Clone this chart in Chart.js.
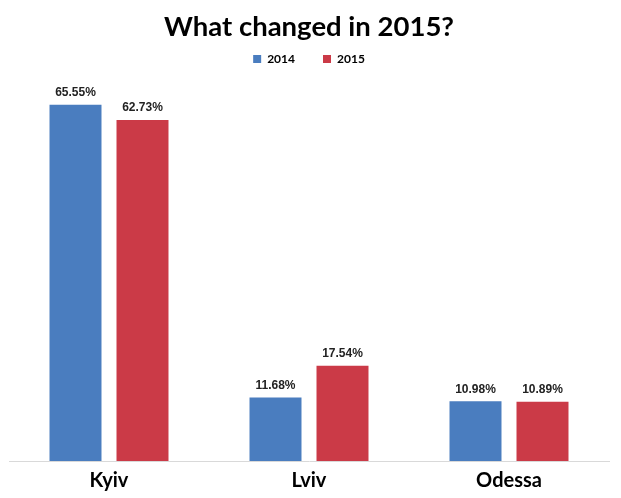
<!DOCTYPE html>
<html>
<head>
<meta charset="utf-8">
<script src="https://cdn.jsdelivr.net/npm/chart.js@4/dist/chart.umd.min.js"></script>
<style>
html,body{margin:0;padding:0;background:#fff;}
#wrap{width:621px;height:498px;position:relative;}
</style>
</head>
<body>
<div id="wrap"><canvas id="c" width="621" height="498"></canvas></div>
<script>
const categories = ["Kyiv", "Lviv", "Odessa"];
const seriesNames = ["2014", "2015"];
const values2014 = [65.55, 11.68, 10.98];
const values2015 = [62.73, 17.54, 10.89];
const seriesColors = ["#4A7DBF", "#CB3A47"];

const valueLabels = {
  id: 'valueLabels',
  afterDatasetsDraw(chart) {
    const ctx = chart.ctx;
    ctx.save();
    ctx.font = 'bold 12px "Liberation Sans", Arial, sans-serif';
    ctx.fillStyle = '#222';
    ctx.textAlign = 'center';
    ctx.textBaseline = 'bottom';
    chart.data.datasets.forEach((ds, i) => {
      chart.getDatasetMeta(i).data.forEach((bar, j) => {
        ctx.fillText(ds.data[j].toFixed(2) + '%', bar.x, bar.y - 6);
      });
    });
    ctx.restore();
  }
};

new Chart(document.getElementById('c'), {
  type: 'bar',
  data: {
    labels: categories,
    datasets: [
      { label: seriesNames[0], data: values2014, backgroundColor: seriesColors[0] },
      { label: seriesNames[1], data: values2015, backgroundColor: seriesColors[1] }
    ]
  },
  options: {
    responsive: false,
    animation: false,
    layout: { padding: { left: 9, right: 12, top: 0, bottom: 4 } },
    datasets: { bar: { categoryPercentage: 0.67, barPercentage: 0.776 } },
    plugins: {
      title: {
        display: true,
        text: 'What changed in 2015?',
        color: '#000',
        font: { family: 'Lato, "Open Sans", sans-serif', size: 27.5, weight: 'bold' },
        padding: { top: 11, bottom: -19 }
      },
      legend: {
        display: true,
        labels: {
          boxWidth: 8, boxHeight: 8, color: '#000', padding: 28,
          font: { family: 'Lato, "Open Sans", sans-serif', size: 12, weight: 'bold' }
        }
      },
      tooltip: { enabled: false }
    },
    scales: {
      x: {
        grid: { display: false, drawTicks: false },
        border: { display: true, color: '#D9D9D9', width: 1 },
        ticks: {
          color: '#000', padding: 8,
          font: { family: 'Lato, "Open Sans", sans-serif', size: 20, weight: 'bold' }
        },
        afterFit(scale) { scale.height = 33; }
      },
      y: { display: false, min: 0, max: 71 }
    }
  },
  plugins: [valueLabels]
});
</script>
</body>
</html>
